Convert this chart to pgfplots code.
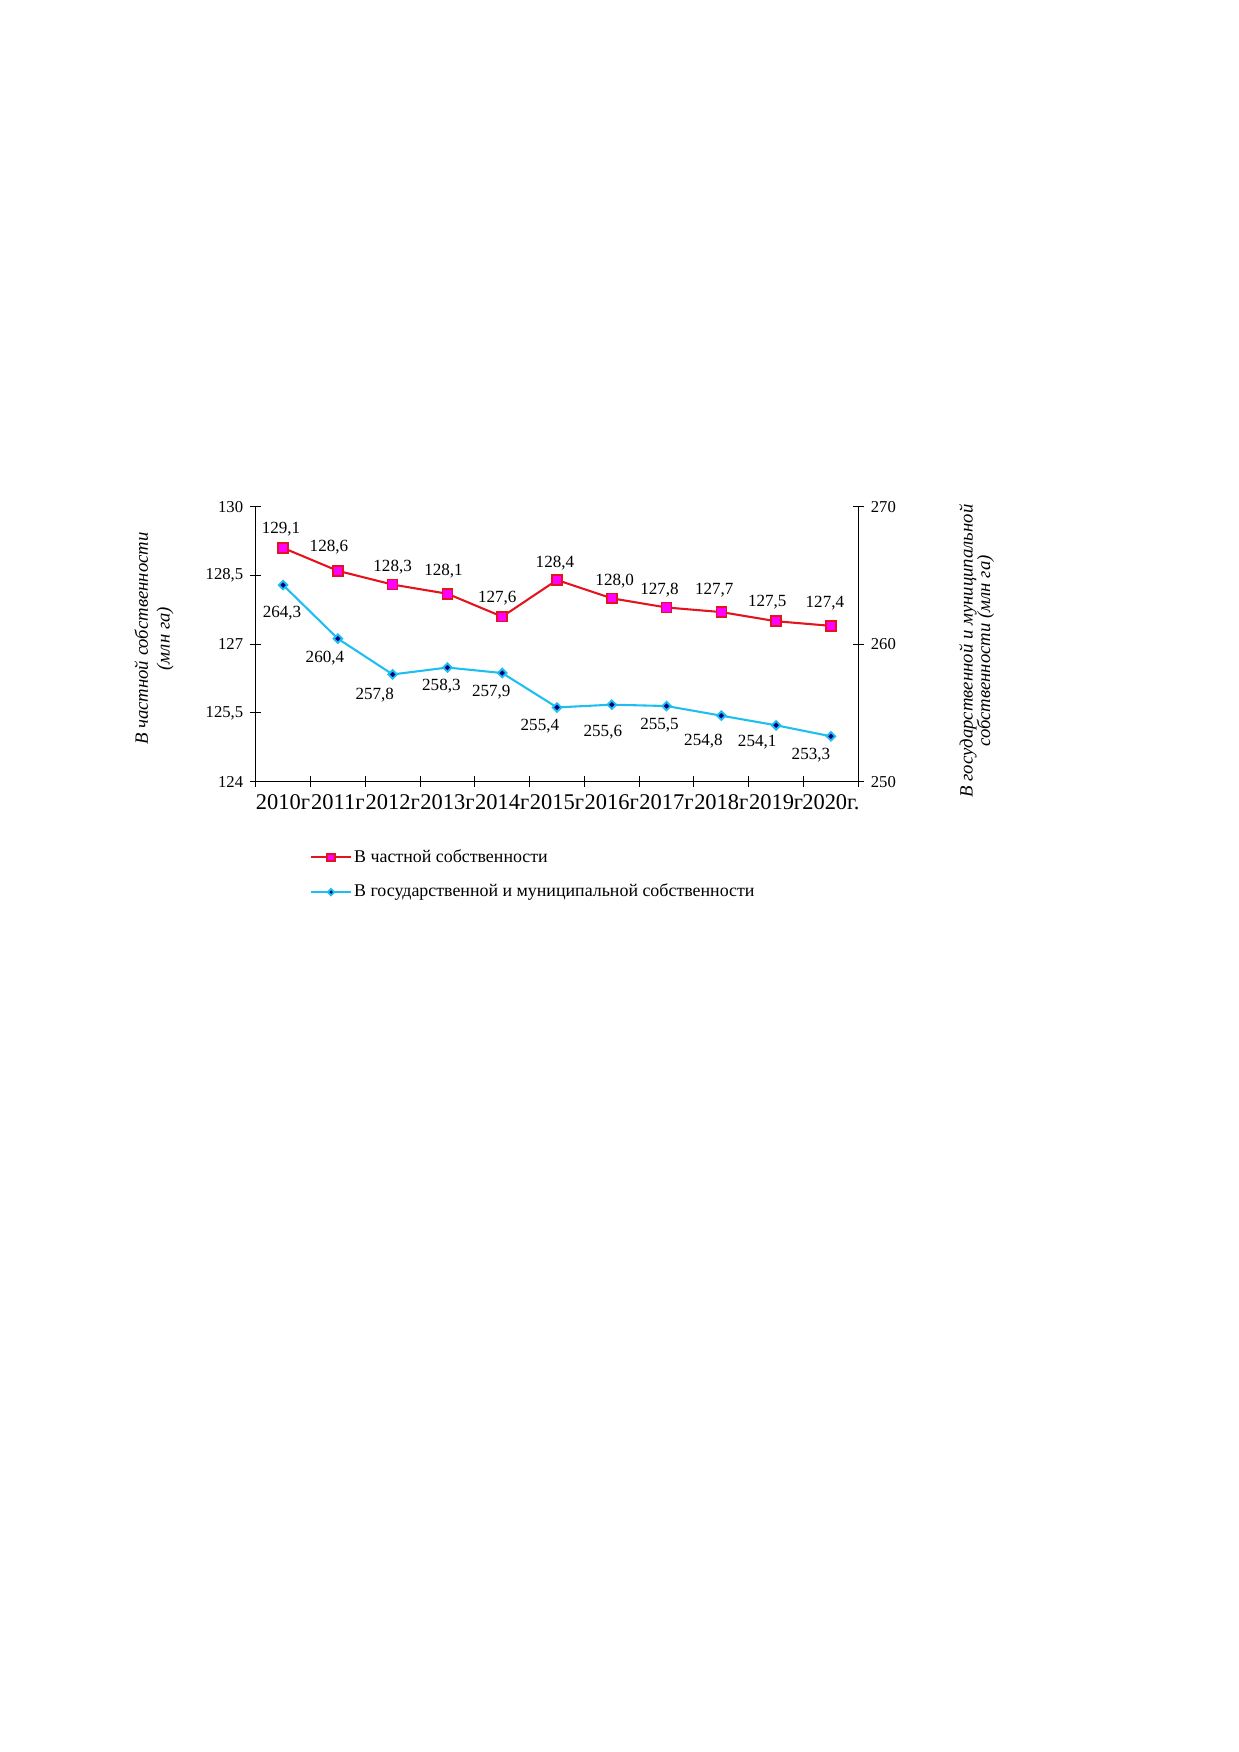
\documentclass[border=0pt]{standalone}
\usepackage{fontspec}
\setmainfont{Liberation Serif}
\usepackage{pgfplots}
\usepackage{pgfplotstable}
\pgfplotsset{compat=1.18}
\definecolor{redline}{RGB}{228,20,30}
\definecolor{magfill}{RGB}{255,0,255}
\definecolor{skyline}{RGB}{30,190,240}
\definecolor{navyfill}{RGB}{0,0,128}

% x, value, label, label position (lx, ly) in data coordinates
\pgfplotstableread{
x y lab lx ly
0 129.1 129,1 -0.038 129.513
1 128.6 128,6 0.837 129.122
2 128.3 128,3 2.000 128.690
3 128.1 128,1 2.928 128.604
4 127.6 127,6 3.909 128.013
5 128.4 128,4 4.962 128.772
6 128.0 128,0 6.053 128.372
7 127.8 127,8 6.871 128.172
8 127.7 127,7 7.871 128.181
9 127.5 127,5 8.837 127.913
10 127.4 127,4 9.890 127.904
}\privatedata

\pgfplotstableread{
x y lab lx ly
0 264.3 264,3 -0.019 262.257
1 260.4 260,4 0.764 258.948
2 257.8 257,8 1.673 256.272
3 258.3 258,3 2.890 256.923
4 257.9 257,9 3.799 256.523
5 255.4 255,4 4.688 254.023
6 255.6 255,6 5.837 253.633
7 255.5 255,5 6.871 254.123
8 254.8 254,8 7.673 252.984
9 254.1 254,1 8.654 252.859
10 253.3 253,3 9.635 251.923
}\statedata

\pgfplotsset{
  common/.style={
    at={(122.87pt,466.27pt)}, anchor=south west,
    scale only axis, width=289.57pt, height=132.15pt,
    xmin=-0.5, xmax=10.5, clip=false,
    axis line style={black, line width=0.5pt},
    tick style={black, line width=0.5pt},
    tick align=center, major tick length=5pt,
    /pgf/number format/assume math mode=true,
    yticklabel style={font=\fontsize{8}{10}\selectfont},
  },
  redstyle/.style={color=redline, line width=1pt, mark=square*, mark size=2.4pt,
    mark options={fill=magfill, draw=redline, line width=0.8pt}},
  bluestyle/.style={color=skyline, line width=1pt, mark=square*, mark size=1.45pt,
    mark options={rotate=45, fill=navyfill, draw=skyline, line width=0.9pt}},
  labs/.style={draw=none, mark=none, forget plot, nodes near coords, point meta=explicit symbolic,
    nodes near coords style={anchor=center, font=\fontsize{8.2}{10}\selectfont, text=black, inner sep=0pt}},
}

\begin{document}
\begin{tikzpicture}[x=1pt,y=1pt]
\path[use as bounding box] (0,0) rectangle (595.3,841.9);
\begin{axis}[common,
  axis x line*=bottom, axis y line*=left,
  ymin=124, ymax=130,
  ytick={124,125.5,127,128.5,130},
  yticklabels={124,{125,5},127,{128,5},130},
  xtick={-0.5,0.5,1.5,2.5,3.5,4.5,5.5,6.5,7.5,8.5,9.5,10.5},
  xticklabels={2010г,2011г,2012г,2013г,2014г,2015г,2016г,2017г,2018г,2019г,2020г.,{}},
  xticklabel style={font=\fontsize{10.8}{12}\selectfont, xshift=13.16pt},
  ylabel={В частной собственности\\(млн га)},
  every axis y label/.style={at={(axis description cs:-0.1688,0.52)}, anchor=center,
    rotate=90, align=center, font=\itshape\fontsize{9}{10.5}\selectfont},
]
\addplot[redstyle, forget plot] table[x=x, y=y] {\privatedata};
\addplot[labs] table[x=lx, y=ly, meta=lab] {\privatedata};
\end{axis}
\begin{axis}[common,
  axis x line=none, axis y line*=right,
  ymin=250, ymax=270,
  ytick={250,260,270},
  yticklabels={250,260,270},
  ylabel={В государственной и муниципальной\\[-1.6pt]собственности (млн га)},
  every axis y label/.style={at={(axis description cs:1.1965,0.475)}, anchor=center,
    rotate=90, align=center, font=\itshape\fontsize{9}{10}\selectfont},
  legend style={at={(axis description cs:0.0895,-0.2375)}, anchor=north west,
    draw=none, fill=none, inner sep=0pt, row sep=7pt,
    font=\fontsize{8.6}{10}\selectfont, nodes={inner sep=1pt}},
  legend cell align=left,
  legend image code/.code={\draw[mark repeat=2, mark phase=2, every mark/.append style={scale=0.75}] plot coordinates {(0pt,0pt) (9.6pt,0pt) (19.2pt,0pt)};},
]
\addlegendimage{redstyle}
\addlegendentry{В частной собственности}
\addlegendimage{bluestyle}
\addlegendentry{В государственной и муниципальной собственности}
\addplot[bluestyle, forget plot] table[x=x, y=y] {\statedata};
\addplot[labs] table[x=lx, y=ly, meta=lab] {\statedata};
\end{axis}
\end{tikzpicture}
\end{document}
